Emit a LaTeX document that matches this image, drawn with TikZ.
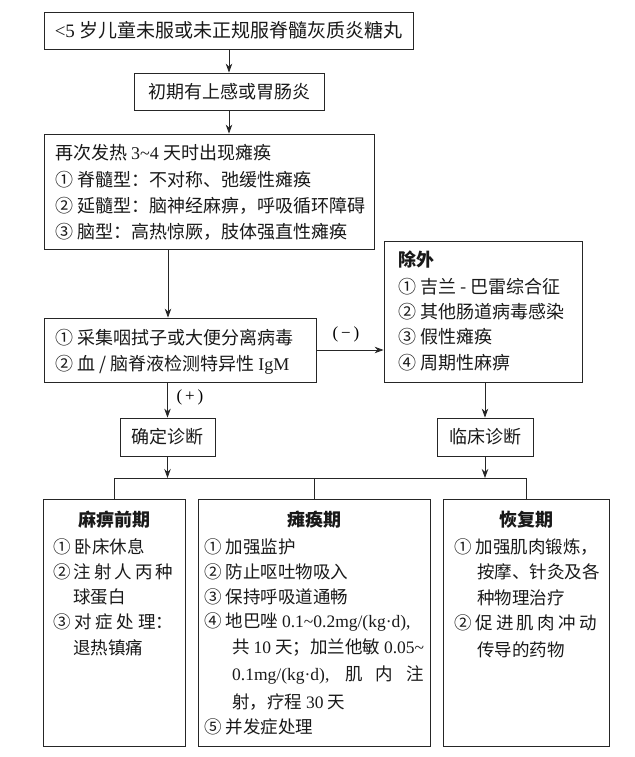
\documentclass[tikz,border=0pt]{standalone}
\usepackage{fontspec}
\setmainfont{Noto Sans CJK SC}
\newfontfamily\lat{Liberation Serif}
\usetikzlibrary{arrows.meta,calc}
\newcommand{\wv}{\string~}
\begin{document}
\begin{tikzpicture}[x=1pt,y=-1pt,
  box/.style={draw=black!85, line width=0.8pt, inner sep=0pt},
  arr/.style={draw=black!85, line width=0.8pt, -{Stealth[length=9pt,width=6.5pt]}},
  ln/.style={draw=black!85, line width=0.8pt},
  big/.style={font=\fontsize{18}{20}\selectfont, text=black!90},
  sml/.style={font=\fontsize{17.5}{20}\selectfont, text=black!90},
  tl/.style={anchor=west, inner sep=0pt, big},
  bl/.style={anchor=west, inner sep=0pt, sml},
  ttl/.style={inner sep=0pt, font=\fontsize{18}{20}\selectfont\bfseries, text=black!90}
  ]
\useasboundingbox (0,0) rectangle (634,757);

% boxes
\node[box, font=\fontsize{19}{21}\selectfont, text=black!90, minimum width=369pt, minimum height=37pt] (b1) at (228.5,30.5) {{\lat <5} 岁儿童未服或未正规服脊髓灰质炎糖丸};
\node[box, big, minimum width=190pt, minimum height=37pt] (b2) at (229,91.5) {初期有上感或胃肠炎};
\node[box, minimum width=330pt, minimum height=115pt] (b3) at (209,191.5) {};
\node[box, minimum width=272pt, minimum height=64pt] (b4) at (180,350) {};
\node[box, minimum width=198pt, minimum height=141pt] (ex) at (483,311.5) {};
\node[box, big, minimum width=95pt, minimum height=38pt] (d1) at (167.5,437) {确定诊断};
\node[box, big, minimum width=96pt, minimum height=38pt] (d2) at (485,437) {临床诊断};
\node[box, minimum width=142pt, minimum height=247pt] (p1) at (114,622.5) {};
\node[box, minimum width=232pt, minimum height=247pt] (p2) at (314,622.5) {};
\node[box, minimum width=166pt, minimum height=247pt] (p3) at (526,622.5) {};

% texts of box 3
\node[tl] (t31) at (55,153) {再次发热 {\lat 3\wv 4} 天时出现瘫痪};
\node[tl] (t32) at (55,180) {① 脊髓型：不对称、弛缓性瘫痪};
\node[tl] (t33) at (55,206) {② 延髓型：脑神经麻痹，呼吸循环障碍};
\node[tl] (t34) at (55,232) {③ 脑型：高热惊厥，肢体强直性瘫痪};

% texts of box 4
\node[tl] (t41) at (55,338) {① 采集咽拭子或大便分离病毒};
\node[tl] (t42) at (55,365) {② 血 / 脑脊液检测特异性 {\lat IgM}};

% texts of exclusion box
\node[ttl, anchor=west] (te0) at (398,260) {除外};
\node[tl] (te1) at (398,287) {① 吉兰 - 巴雷综合征};
\node[tl] (te2) at (398,312) {② 其他肠道病毒感染};
\node[tl] (te3) at (398,337) {③ 假性瘫痪};
\node[tl] (te4) at (398,363) {④ 周期性麻痹};

% labels
\node[inner sep=0pt, font=\lat\fontsize{17}{20}\selectfont] (lm) at (346,334) {(\,−\,)};
\node[inner sep=0pt, font=\lat\fontsize{17}{20}\selectfont] (lp) at (190,397) {(\,+\,)};

% bottom left
\node[ttl] (p1t) at (114,520) {麻痹前期};
\node[bl] (p11) at (53,547) {① 卧床休息};
\node[bl] (p12) at (53,572) {\makebox[120pt][s]{② 注 射 人 丙 种}};
\node[bl] (p13) at (73,597) {球蛋白};
\node[bl] (p14) at (53,622) {\makebox[120pt][s]{③ 对 症 处 理：}};
\node[bl] (p15) at (73,648) {退热镇痛};

% bottom middle
\node[ttl] (p2t) at (314,520) {瘫痪期};
\node[bl] (p21) at (204,547) {① 加强监护};
\node[bl] (p22) at (204,572) {② 防止呕吐物吸入};
\node[bl] (p23) at (204,597) {③ 保持呼吸道通畅};
\node[bl] (p24) at (204,622) {④ 地巴唑 {\lat 0.1\wv 0.2mg/(kg·d),}};
\node[bl] (p25) at (232,648) {\makebox[192pt][s]{共 {\lat 10} 天；加兰他敏 {\lat 0.05\wv}}};
\node[bl] (p26) at (232,675) {\makebox[192pt][s]{{\lat 0.1mg/(kg·d),} 肌 内 注}};
\node[bl] (p27) at (232,702) {射，疗程 {\lat 30} 天};
\node[bl] (p28) at (204,727) {⑤ 并发症处理};

% bottom right
\node[ttl] (p3t) at (526,520) {恢复期};
\node[bl] (p31) at (454,547) {① 加强肌肉锻炼，};
\node[bl] (p32) at (477,572) {按摩、针灸及各};
\node[bl] (p33) at (477,598) {种物理治疗};
\node[bl] (p34) at (454,623) {\makebox[143pt][s]{② 促 进 肌 肉 冲 动}};
\node[bl] (p35) at (477,650) {传导的药物};

% connectors
\coordinate (c1) at (168,0);
\coordinate (br) at (0,478);
\draw[arr] (b1.south -| b2) -- (b2.north);
\draw[arr] (b2.south) -- (b2.south |- b3.north);
\draw[arr] (b3.south -| c1) -- (b4.north -| c1);
\draw[arr] (b4.east) -- (b4.east -| ex.west);
\draw[arr] (b4.south -| d1) -- (d1.north);
\draw[arr] (ex.south -| d2) -- (d2.north);
\draw[arr] (d1.south) -- (d1.south |- br);
\draw[arr] (d2.south) -- (d2.south |- br);
\draw[ln] (p1.north) -- (p1.north |- br) -- (p3.north |- br) -- (p3.north);
\draw[ln] (p2.north) -- (p2.north |- br);
\end{tikzpicture}
\end{document}
